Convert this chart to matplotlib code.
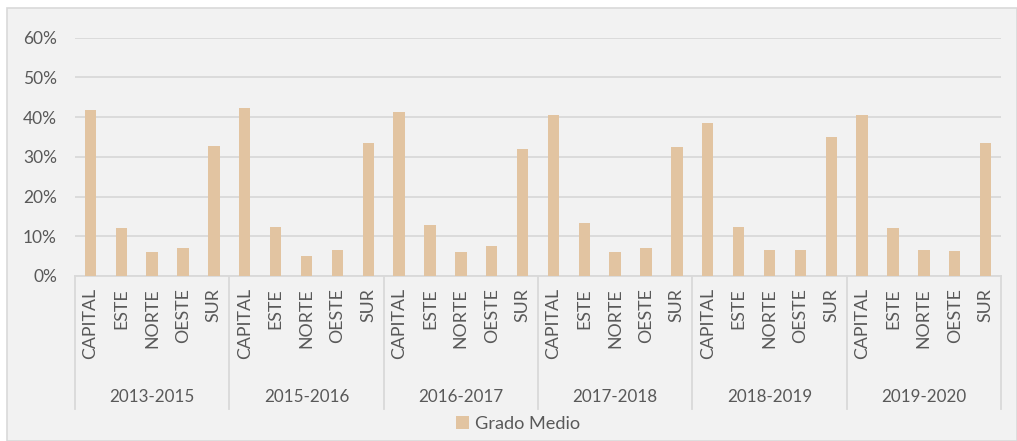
import matplotlib.pyplot as plt
from matplotlib.patches import Rectangle
from matplotlib.lines import Line2D
import numpy as np

plt.rcParams['font.family'] = ['Lato', 'DejaVu Sans']

periods = ['2013-2015', '2015-2016', '2016-2017', '2017-2018', '2018-2019', '2019-2020']
zones = ['CAPITAL', 'ESTE', 'NORTE', 'OESTE', 'SUR']

# share of "Grado Medio" per zone, one list per period (fractions)
p2013_2015 = [0.419, 0.121, 0.060, 0.070, 0.328]
p2015_2016 = [0.422, 0.124, 0.050, 0.066, 0.334]
p2016_2017 = [0.412, 0.128, 0.060, 0.076, 0.321]
p2017_2018 = [0.405, 0.134, 0.060, 0.070, 0.325]
p2018_2019 = [0.386, 0.124, 0.066, 0.066, 0.351]
p2019_2020 = [0.405, 0.121, 0.066, 0.063, 0.334]

series = p2013_2015 + p2015_2016 + p2016_2017 + p2017_2018 + p2018_2019 + p2019_2020

bar_color = '#E2C4A1'
grid_color = '#D9D9D9'
text_color = '#595959'
bg = '#F2F2F2'

W, H = 1017, 441
fig = plt.figure(figsize=(W / 100, H / 100), dpi=100)
fig.patch.set_facecolor('white')
renderer = fig.canvas.get_renderer()


def fit_size(s, target_px, base=12):
    # font size that makes string s about target_px wide
    t = fig.text(0, 0, s, fontsize=base)
    w = t.get_window_extent(renderer).width
    t.remove()
    return base * target_px / w


fs_zone = fit_size('CAPITAL', 71)
fs_year = fit_size('2013-2015', 85)
fs_tick = fit_size('60%', 34)
fs_leg = fit_size('Grado Medio', 105)

# outer chart area box
fig.patches.append(Rectangle((7 / W, 0), (W - 7) / W, (H - 8) / H, transform=fig.transFigure,
                             facecolor=bg, edgecolor=grid_color, linewidth=1.2, zorder=-5))

x0, x1 = 75, 1001
y_zero, y_top = 276, 37.7
ax = fig.add_axes([x0 / W, (H - y_zero) / H, (x1 - x0) / W, (y_zero - y_top) / H])
ax.set_zorder(1)
ax.patch.set_alpha(0)

x = np.arange(len(series))
ax.bar(x, series, width=0.37, color=bar_color, zorder=3)

ax.set_xlim(-0.5, len(series) - 0.5)
ax.set_ylim(0, 0.6)
ticks = np.arange(0, 0.61, 0.1)
ax.set_yticks(ticks)
ax.set_yticklabels([f'{int(round(v * 100))}%' for v in ticks])
ax.tick_params(axis='y', length=0, pad=13, labelsize=fs_tick, labelcolor=text_color)
ax.set_xticks([])
ax.grid(axis='y', color=grid_color, linewidth=1.3, zorder=0)
for s in ['top', 'right', 'left']:
    ax.spines[s].set_visible(False)
ax.spines['bottom'].set_color(grid_color)
ax.spines['bottom'].set_linewidth(1.3)

px = y_zero - y_top  # axes height in pixels
trans = ax.get_xaxis_transform()

# group separators
for g in range(len(periods) + 1):
    xs = g * len(zones) - 0.5
    ax.add_line(Line2D([xs, xs], [0, -(409 - y_zero) / px], transform=trans,
                       color=grid_color, linewidth=1.3, clip_on=False))

# zone labels
for i in x:
    ax.text(i, -(288 - y_zero) / px, zones[i % len(zones)], transform=trans,
            rotation=90, ha='center', va='top', fontsize=fs_zone, color=text_color)

# period labels
for g, p in enumerate(periods):
    xc = g * len(zones) + (len(zones) - 1) / 2
    ax.text(xc, -(397 - y_zero) / px, p, transform=trans, ha='center', va='center',
            fontsize=fs_year, color=text_color)

handle = Rectangle((0, 0), 1, 1, facecolor=bar_color)
fig.legend([handle], ['Grado Medio'], loc='center', bbox_to_anchor=(518 / W, 1 - 424 / H),
           frameon=False, fontsize=fs_leg, labelcolor=text_color, handlelength=0.7,
           handleheight=0.7, handletextpad=0.3)

fig.savefig('out.png', dpi=100, facecolor=fig.get_facecolor())
